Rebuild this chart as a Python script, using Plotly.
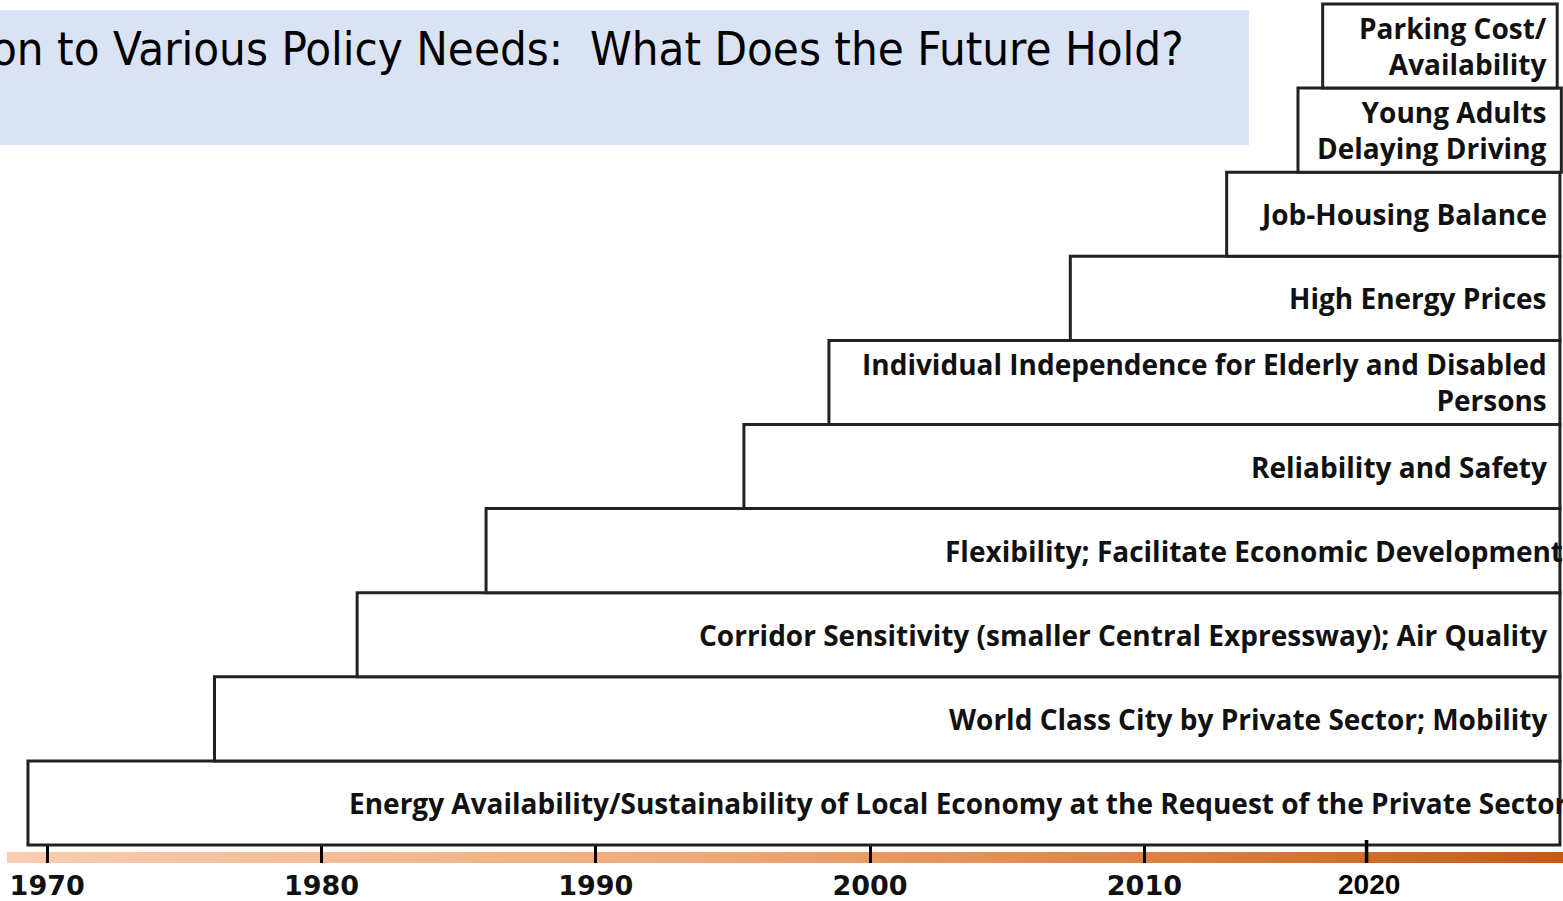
import plotly.graph_objects as go

# ---------------- data ----------------
labels = [
    "Energy Availability/Sustainability of Local Economy at the Request of the Private Sector",
    "World Class City by Private Sector; Mobility",
    "Corridor Sensitivity (smaller Central Expressway); Air Quality",
    "Flexibility; Facilitate Economic Development",
    "Reliability and Safety",
    "Individual Independence for Elderly and Disabled<br>Persons",
    "High Energy Prices",
    "Job-Housing Balance",
    "Young Adults<br>Delaying Driving",
    "Parking Cost/<br>Availability",
]
start_years = [1969.3, 1976.1, 1981.3, 1986.0, 1995.4, 1998.5, 2007.3, 2013.0, 2015.6, 2016.5]
end_years = [2025.15, 2025.15, 2025.15, 2025.15, 2025.15, 2025.15, 2025.15, 2025.15, 2025.2, 2025.05]
tick_years = [1970, 1980, 1990, 2000, 2010]
tick_labels = ["1970", "1980", "1990", "2000", "2010"]
extra_tick_label = "2020"
extra_tick_year = 2018.1
title_text = "on to Various Policy Needs:  What Does the Future Hold?"

# ---------------- layout constants ----------------
W, H = 1563, 901
X0 = 1968.28
PPY = 27.43
XR = [X0, X0 + W / PPY]
ROW_PX = 84.1
BASE_PX = 845
PLOT_H = 863
YR = [(BASE_PX - PLOT_H) / ROW_PX, BASE_PX / ROW_PX]

LINE = "#222222"
LABEL_FONT = dict(family="'Open Sans', Lato, sans-serif", size=28, color="#111111", weight="bold")
left_anchor = {0: 347, 3: 943}   # labels that overflow the right edge

fig = go.Figure()

# timeline gradient bar
bar_y0, bar_y1 = (BASE_PX - 864) / ROW_PX, (BASE_PX - 852) / ROW_PX
bx0, bx1 = X0 + 7 / PPY, XR[1] + 1
fig.add_trace(go.Scatter(
    x=[bx0, bx1, bx1, bx0, bx0], y=[bar_y0, bar_y0, bar_y1, bar_y1, bar_y0],
    mode="lines", line=dict(width=0), fill="toself",
    fillgradient=dict(type="horizontal",
                      colorscale=[[0, "#F8CDB2"], [0.45, "#EDA877"], [0.75, "#DC7E3E"], [1, "#C4580F"]]),
    hoverinfo="skip", showlegend=False, cliponaxis=False,
))

shapes = []
annotations = []
for i, (lab, s, e) in enumerate(zip(labels, start_years, end_years)):
    shapes.append(dict(type="rect", xref="x", yref="y", x0=s, x1=e, y0=i, y1=i + 1,
                       line=dict(color=LINE, width=3), fillcolor="white", layer="above"))
    if i in left_anchor:
        annotations.append(dict(xref="x", yref="y", x=X0 + left_anchor[i] / PPY, y=i + 0.5,
                                text=lab, showarrow=False, xanchor="left", yanchor="middle",
                                align="left", font=LABEL_FONT))
    else:
        annotations.append(dict(xref="x", yref="y", x=X0 + 1549 / PPY, y=i + 0.5,
                                text=lab, showarrow=False, xanchor="right", yanchor="middle",
                                align="right", font=LABEL_FONT))

# 2020 tick (drawn later in the original, different style)
shapes.append(dict(type="line", xref="x", yref="y", x0=extra_tick_year, x1=extra_tick_year,
                   y0=(BASE_PX - 865) / ROW_PX, y1=(BASE_PX - 840) / ROW_PX,
                   line=dict(color="black", width=3.5)))
annotations.append(dict(xref="x", yref="paper", x=extra_tick_year + 0.1, y=1 - 884 / H,
                        text="<b>" + extra_tick_label + "</b>", showarrow=False,
                        xanchor="center", yanchor="middle",
                        font=dict(family="Liberation Sans, Arial, sans-serif", size=28, color="black")))

# title band
shapes.append(dict(type="rect", xref="paper", yref="paper", x0=-0.01, x1=1249 / W,
                   y0=1 - 145 / H, y1=1 - 10 / H, line=dict(width=0), fillcolor="#DAE3F3",
                   layer="below"))
annotations.append(dict(xref="paper", yref="paper", x=1186 / W, y=1 - 49 / H,
                        text=title_text, showarrow=False, xanchor="right", yanchor="middle",
                        font=dict(family="DejaVu Sans Condensed, DejaVu Sans, sans-serif",
                                  size=47, color="black")))

fig.update_layout(
    width=W, height=H,
    margin=dict(l=0, r=0, t=0, b=0, pad=0),
    paper_bgcolor="white", plot_bgcolor="rgba(0,0,0,0)",
    shapes=shapes, annotations=annotations,
    showlegend=False,
    xaxis=dict(range=XR, showgrid=False, zeroline=False, showline=False, automargin=False,
               tickvals=tick_years, ticktext=tick_labels,
               ticks="inside", ticklen=28, tickwidth=2.5, tickcolor="black",
               tickfont=dict(family="DejaVu Sans, sans-serif", size=27, color="#111111", weight="bold"),
               ticklabelstandoff=4, fixedrange=True),
    yaxis=dict(range=YR, domain=[1 - PLOT_H / H, 1], showgrid=False, zeroline=False,
               automargin=False, showline=False, showticklabels=False, ticks="",
               fixedrange=True),
)

fig.write_html(
    "out.html",
    config={"displayModeBar": False},
    post_script="document.body.style.margin='0';document.body.style.overflow='hidden';",
)
